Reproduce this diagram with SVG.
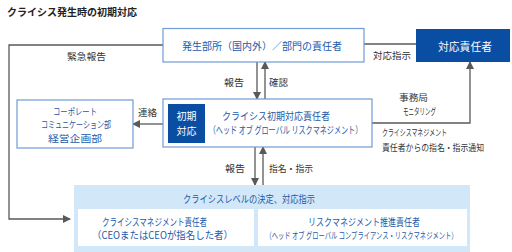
<svg xmlns="http://www.w3.org/2000/svg" width="512" height="252" viewBox="0 0 512 252">
<defs>
<marker id="ah" markerWidth="8" markerHeight="8" refX="7" refY="4" orient="auto" markerUnits="userSpaceOnUse">
<path d="M0,0 L8,4 L0,8 Z" fill="#595959"/>
</marker>
<style>
text{font-family:"Noto Sans CJK JP","Noto Sans",sans-serif;dominant-baseline:central}
.t{font-size:10px;fill:#2459a8;text-anchor:middle}
.l{font-size:9.5px;fill:#333}
.w{fill:#fff;text-anchor:middle}
.box{fill:#fff;stroke:#6f9bd6;stroke-width:1.2}
.ln{fill:none;stroke:#595959;stroke-width:1.3}
.ar{marker-end:url(#ah)}
</style>
</defs>
<rect width="512" height="252" fill="#fff"/>
<text x="7" y="11" style="font-size:10px;font-weight:bold;fill:#222" textLength="130" lengthAdjust="spacingAndGlyphs">クライシス発生時の初期対応</text>

<g id="connectors">
<polyline class="ln ar" points="163,45 9,45 9,219 70,219"/>
<line class="ln" x1="364" y1="44" x2="416" y2="44"/>
<line class="ln ar" x1="257" y1="62" x2="257" y2="99"/>
<line class="ln ar" x1="265" y1="99" x2="265" y2="62"/>
<line class="ln ar" x1="163" y1="124" x2="133" y2="124"/>
<polyline class="ln ar" points="372,123 470,123 470,62"/>
<line class="ln ar" x1="255" y1="147" x2="255" y2="185"/>
<line class="ln ar" x1="263" y1="185" x2="263" y2="147"/>
<text class="l" x="67" y="56" textLength="39" lengthAdjust="spacingAndGlyphs">緊急報告</text>
<text class="l" x="373" y="55" textLength="38" lengthAdjust="spacingAndGlyphs">対応指示</text>
<text class="l" x="224" y="82" textLength="20" lengthAdjust="spacingAndGlyphs">報告</text>
<text class="l" x="269" y="82" textLength="19" lengthAdjust="spacingAndGlyphs">確認</text>
<text class="l" x="138" y="112" textLength="19" lengthAdjust="spacingAndGlyphs">連絡</text>
<text class="l" x="399" y="97.5" style="font-size:9px" textLength="29" lengthAdjust="spacingAndGlyphs">事務局</text>
<text class="l" x="403" y="111" style="font-size:9px" textLength="33" lengthAdjust="spacingAndGlyphs">モニタリング</text>
<text class="l" x="382" y="132.5" style="font-size:9px" textLength="65" lengthAdjust="spacingAndGlyphs">クライシスマネジメント</text>
<text class="l" x="382" y="147" style="font-size:9px" textLength="102" lengthAdjust="spacingAndGlyphs">責任者からの指名・指示通知</text>
<text class="l" x="225" y="168" textLength="20" lengthAdjust="spacingAndGlyphs">報告</text>
<text class="l" x="269" y="168" textLength="44" lengthAdjust="spacingAndGlyphs">指名・指示</text>
</g>

<g id="site">
<rect class="box" x="163" y="28.5" width="201" height="33.5"/>
<text class="t" x="262" y="45" textLength="160" lengthAdjust="spacingAndGlyphs">発生部所（国内外）／部門の責任者</text>
</g>

<g id="resp">
<rect x="416" y="29" width="94" height="33" fill="#0a4ea3"/>
<text class="w" x="465" y="45.5" style="font-size:11px" textLength="54" lengthAdjust="spacingAndGlyphs">対応責任者</text>
</g>

<g id="corp">
<rect class="box" x="17" y="100" width="116" height="48"/>
<text class="t" x="75" y="110.5" style="font-size:9.3px" textLength="44" lengthAdjust="spacingAndGlyphs">コーポレート</text>
<text class="t" x="76" y="124" style="font-size:9.3px" textLength="70" lengthAdjust="spacingAndGlyphs">コミュニケーション部</text>
<text class="t" x="75" y="137.5" style="font-size:9.3px" textLength="54" lengthAdjust="spacingAndGlyphs">経営企画部</text>
</g>

<g id="initial">
<rect class="box" x="163" y="99" width="209" height="48"/>
<rect x="168" y="104" width="37" height="39" fill="#0a4ea3"/>
<text class="w" x="186.5" y="115.5" style="font-size:10px">初期</text>
<text class="w" x="186.5" y="130.5" style="font-size:10px">対応</text>
<text class="t" x="276" y="115" textLength="108" lengthAdjust="spacingAndGlyphs">クライシス初期対応責任者</text>
<text class="t" transform="translate(285.5,129.5) scale(0.71,1)" x="0" y="0">（ヘッド オブ グローバル リスクマネジメント）</text>
</g>

<g id="decision">
<rect x="74" y="185" width="396" height="67" fill="#d2e8f9"/>
<text class="t" x="249" y="198" textLength="132" lengthAdjust="spacingAndGlyphs">クライシスレベルの決定、対応指示</text>
</g>

<g id="cm">
<rect x="78" y="209" width="176" height="37" fill="#fff"/>
<text class="t" x="154.5" y="221" textLength="105" lengthAdjust="spacingAndGlyphs">クライシスマネジメント責任者</text>
<text class="t" x="162.5" y="234.5" textLength="141" lengthAdjust="spacingAndGlyphs">（CEOまたはCEOが指名した者）</text>
</g>

<g id="rm">
<rect x="258" y="209" width="209" height="37" fill="#fff"/>
<text class="t" x="364" y="221.5" textLength="112" lengthAdjust="spacingAndGlyphs">リスクマネジメント推進責任者</text>
<text class="t" transform="translate(361.5,234.5) scale(0.7,1)" x="0" y="0" style="font-size:9px">（ヘッド オブ グローバル コンプライアンス・リスクマネジメント）</text>
</g>
</svg>
